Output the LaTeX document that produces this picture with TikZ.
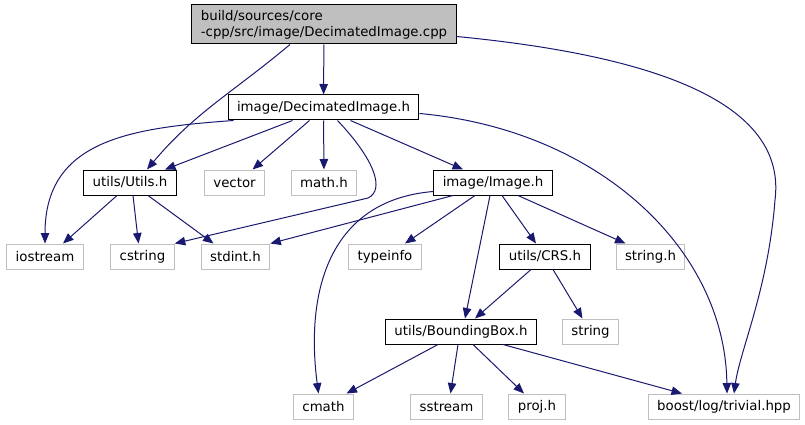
\documentclass[tikz,border=0pt]{standalone}
\usepackage{fontspec}
\setmainfont{DejaVu Sans}
\usepackage{xcolor}
\usetikzlibrary{positioning,shapes,arrows.meta}
\definecolor{edgeblue}{RGB}{25,25,112}
\definecolor{extgray}{RGB}{191,191,191}

\begin{document}
\begin{tikzpicture}[x=1pt,y=-1pt,
  font=\fontsize{13.33}{16}\selectfont,
  box/.style={draw,line width=1pt,minimum height=25pt,inner xsep=9pt,inner ysep=0pt},
  doc/.style={box,draw=black},
  ext/.style={box,draw=extgray},
  dep/.style={draw=edgeblue,line width=1pt,-{Triangle[length=10.5pt,width=8.5pt]}}]
  \useasboundingbox (0,0) rectangle (805,425);
  \node[doc,fill=extgray,align=left,minimum width=262pt,minimum height=39pt] (top) at (324,24.5) {build/sources/core\\-cpp/src/image/DecimatedImage.cpp};
  \node[doc] (dec) at (323.5,107.5) {image/DecimatedImage.h};
  \node[doc] (utils) at (130,182.5) {utils/Utils.h};
  \node[ext] (vector) at (234.5,182.5) {vector};
  \node[ext] (mathh) at (324,182.5) {math.h};
  \node[doc] (image) at (493,182.5) {image/Image.h};
  \node[ext] (iostream) at (45,256.5) {iostream};
  \node[ext] (cstring) at (142.5,256.5) {cstring};
  \node[ext] (stdint) at (235.5,256.5) {stdint.h};
  \node[ext] (typeinfo) at (385,256.5) {typeinfo};
  \node[doc] (crs) at (545,256.5) {utils/CRS.h};
  \node[ext] (stringh) at (650.5,256.5) {string.h};
  \node[doc] (bbox) at (461,331.5) {utils/BoundingBox.h};
  \node[ext] (string) at (590.5,331.5) {string};
  \node[ext] (cmath) at (323.5,406.5) {cmath};
  \node[ext] (sstream) at (446.5,406.5) {sstream};
  \node[ext] (projh) at (537,406.5) {proj.h};
  \node[ext] (boost) at (724,406.5) {boost/log/trivial.hpp};

  \draw[dep] (top) -- (dec);
  \draw[dep] ([xshift=-34pt]top.south) to[out=-140,in=50] ([xshift=17pt]utils.north);
  \draw[dep] ([yshift=-12pt]top.east) .. controls (700,60) and (785,120) .. (775,200)
    .. controls (768,290) and (740,350) .. ([xshift=10pt]boost.north);

  \draw[dep] ([xshift=-31pt]dec.south) -- ([xshift=35pt]utils.north);
  \draw[dep] ([xshift=-14pt]dec.south) -- ([xshift=18pt]vector.north);
  \draw[dep] (dec) -- (mathh);
  \draw[dep] ([xshift=27pt]dec.south) -- ([xshift=-30pt]image.north);
  \draw[dep] ([xshift=-90pt]dec.south) .. controls (130,128) and (45,140) .. (iostream.north);
  \draw[dep] ([xshift=14pt]dec.south) .. controls (375,160) and (385,190) .. (368,198) -- (cstring.north east);
  \draw[dep] ([yshift=-6pt]dec.east) .. controls (600,130) and (725,250) .. ([xshift=3pt]boost.north);

  \draw[dep] ([xshift=-13pt]utils.south) -- ([xshift=18pt]iostream.north);
  \draw[dep] ([xshift=3pt]utils.south) -- ([xshift=-4pt]cstring.north);
  \draw[dep] ([xshift=18pt]utils.south) -- ([xshift=-22pt]stdint.north);

  \draw[dep] ([xshift=-40pt]image.south) -- (stdint.north east);
  \draw[dep] ([yshift=-9pt]image.west) .. controls (330,200) and (305,290) .. ([xshift=-5pt]cmath.north);
  \draw[dep] ([xshift=-18pt]image.south) -- ([xshift=20pt]typeinfo.north);
  \draw[dep] ([xshift=-3pt]image.south) -- ([xshift=4pt]bbox.north);
  \draw[dep] ([xshift=9pt]image.south) -- ([xshift=-9pt]crs.north);
  \draw[dep] ([xshift=25pt]image.south) -- ([xshift=-25pt]stringh.north);

  \draw[dep] ([xshift=-14pt]crs.south) -- ([xshift=14pt]bbox.north);
  \draw[dep] ([xshift=8pt]crs.south) -- ([xshift=-8pt]string.north);

  \draw[dep] ([xshift=-23pt]bbox.south) -- ([xshift=23pt]cmath.north);
  \draw[dep] ([xshift=-3pt]bbox.south) -- ([xshift=4pt]sstream.north);
  \draw[dep] ([xshift=12pt]bbox.south) -- ([xshift=-13pt]projh.north);
  \draw[dep] ([xshift=42pt]bbox.south) -- ([xshift=-42pt]boost.north);
\end{tikzpicture}
\end{document}
